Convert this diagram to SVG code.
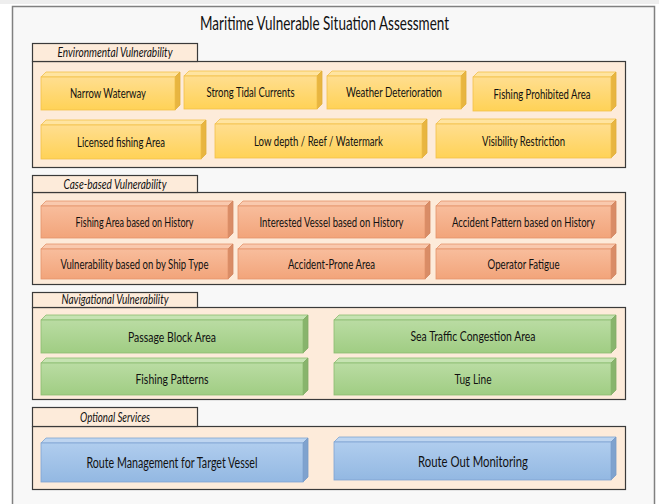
<svg xmlns="http://www.w3.org/2000/svg" width="659" height="504" viewBox="0 0 659 504">
  <defs>
    <linearGradient id="gY" x1="0" y1="0" x2="0" y2="1">
      <stop offset="0" stop-color="#FFDE90"/>
      <stop offset="1" stop-color="#FFD256"/>
    </linearGradient>
    <linearGradient id="gO" x1="0" y1="0" x2="0" y2="1">
      <stop offset="0" stop-color="#F8BD9C"/>
      <stop offset="1" stop-color="#F2A47A"/>
    </linearGradient>
    <linearGradient id="gG" x1="0" y1="0" x2="0" y2="1">
      <stop offset="0" stop-color="#BADCA3"/>
      <stop offset="1" stop-color="#A0CD83"/>
    </linearGradient>
    <linearGradient id="gB" x1="0" y1="0" x2="0" y2="1">
      <stop offset="0" stop-color="#B0CDEE"/>
      <stop offset="1" stop-color="#93B8E2"/>
    </linearGradient>
    <style>
      .frame { fill: #F8F8F8; stroke: #808080; stroke-width: 1.5; }
      .sec { fill: #FDEBDA; stroke: #3A3A3A; stroke-width: 1.2; }
      .title { font-family: Lato, "Open Sans", sans-serif; font-size: 19px; fill: #111; text-anchor: middle; }
      .tab { font-family: Lato, "Open Sans", sans-serif; font-style: italic; font-size: 12.5px; fill: #111; text-anchor: middle; }
      .lbl { font-family: Lato, "Open Sans", sans-serif; font-size: 13px; fill: #111; text-anchor: middle; }
      .lbl2 { font-family: Lato, "Open Sans", sans-serif; font-size: 14px; fill: #111; text-anchor: middle; }
      .lbl3 { font-family: Lato, "Open Sans", sans-serif; font-size: 14.5px; fill: #111; text-anchor: middle; }
      .y .f { fill: url(#gY); stroke: #F2C04A; stroke-width: 0.8; }
      .y .t { fill: #FFE4A0; stroke: #F2C04A; stroke-width: 0.8; }
      .y .s { fill: #E8B540; stroke: #E0AE3A; stroke-width: 0.8; }
      .o .f { fill: url(#gO); stroke: #E4946C; stroke-width: 0.8; }
      .o .t { fill: #F9C9AE; stroke: #E4946C; stroke-width: 0.8; }
      .o .s { fill: #D98C66; stroke: #D08560; stroke-width: 0.8; }
      .g .f { fill: url(#gG); stroke: #8CBC70; stroke-width: 0.8; }
      .g .t { fill: #C6E3B2; stroke: #8CBC70; stroke-width: 0.8; }
      .g .s { fill: #88B46C; stroke: #80AC64; stroke-width: 0.8; }
      .b .f { fill: url(#gB); stroke: #7FA4D2; stroke-width: 0.8; }
      .b .t { fill: #BED5F0; stroke: #7FA4D2; stroke-width: 0.8; }
      .b .s { fill: #7FA2CE; stroke: #7699C6; stroke-width: 0.8; }
    </style>
  </defs>

  <!-- page background and outer frame -->
  <rect x="0" y="0" width="659" height="504" fill="#FFFFFF"/>
  <rect x="0" y="0" width="659" height="4" fill="#EEEEEE"/>
  <rect class="frame" x="12.5" y="6.5" width="642" height="510"/>
  <text class="title" x="324.5" y="30" textLength="249" lengthAdjust="spacingAndGlyphs">Maritime Vulnerable Situation Assessment</text>

  <!-- section panels with tabs -->
  <g id="sec-env">
    <rect class="sec" x="32.5" y="61.5" width="593" height="106"/>
    <rect class="sec" x="32.5" y="43.5" width="165" height="18"/>
    <text class="tab" x="115" y="57" textLength="115" lengthAdjust="spacingAndGlyphs">Environmental Vulnerability</text>
  </g>
  <g id="sec-case">
    <rect class="sec" x="32.5" y="192.5" width="593" height="92"/>
    <rect class="sec" x="32.5" y="175.5" width="165" height="17"/>
    <text class="tab" x="115" y="188.5" textLength="103" lengthAdjust="spacingAndGlyphs">Case-based Vulnerability</text>
  </g>
  <g id="sec-nav">
    <rect class="sec" x="32.5" y="307.5" width="593" height="92"/>
    <rect class="sec" x="32.5" y="292.5" width="165" height="15"/>
    <text class="tab" x="115" y="304" textLength="107" lengthAdjust="spacingAndGlyphs">Navigational Vulnerability</text>
  </g>
  <g id="sec-opt">
    <rect class="sec" x="32.5" y="426.5" width="593" height="63"/>
    <rect class="sec" x="32.5" y="407.5" width="165" height="19"/>
    <text class="tab" x="115" y="421.5" textLength="70" lengthAdjust="spacingAndGlyphs">Optional Services</text>
  </g>

  <!-- environmental vulnerability blocks -->
  <g id="narrow-waterway" class="y">
    <polygon class="t" points="41,77 46,72 180,72 175,77"/>
    <polygon class="s" points="175,77 180,72 180,105 175,110"/>
    <rect class="f" x="41" y="77" width="134" height="33"/>
    <text class="lbl" x="108" y="98" textLength="76" lengthAdjust="spacingAndGlyphs">Narrow Waterway</text>
  </g>
  <g id="strong-tidal" class="y">
    <polygon class="t" points="184,76 189,71 322,71 317,76"/>
    <polygon class="s" points="317,76 322,71 322,104 317,109"/>
    <rect class="f" x="184" y="76" width="133" height="33"/>
    <text class="lbl" x="250.5" y="97" textLength="88" lengthAdjust="spacingAndGlyphs">Strong Tidal Currents</text>
  </g>
  <g id="weather" class="y">
    <polygon class="t" points="327,76 332,71 466,71 461,76"/>
    <polygon class="s" points="461,76 466,71 466,104 461,109"/>
    <rect class="f" x="327" y="76" width="134" height="33"/>
    <text class="lbl" x="394" y="97" textLength="96" lengthAdjust="spacingAndGlyphs">Weather Deterioration</text>
  </g>
  <g id="fishing-prohibited" class="y">
    <polygon class="t" points="473,77 478,72 616,72 611,77"/>
    <polygon class="s" points="611,77 616,72 616,106 611,111"/>
    <rect class="f" x="473" y="77" width="138" height="34"/>
    <text class="lbl" x="542" y="98.5" textLength="97" lengthAdjust="spacingAndGlyphs">Fishing Prohibited Area</text>
  </g>
  <g id="licensed-fishing" class="y">
    <polygon class="t" points="41,125 46,120 206,120 201,125"/>
    <polygon class="s" points="201,125 206,120 206,154 201,159"/>
    <rect class="f" x="41" y="125" width="160" height="34"/>
    <text class="lbl" x="121" y="146.5" textLength="88" lengthAdjust="spacingAndGlyphs">Licensed fishing Area</text>
  </g>
  <g id="low-depth" class="y">
    <polygon class="t" points="215,124 220,119 427,119 422,124"/>
    <polygon class="s" points="422,124 427,119 427,153 422,158"/>
    <rect class="f" x="215" y="124" width="207" height="34"/>
    <text class="lbl" x="318.5" y="145.5" textLength="129" lengthAdjust="spacingAndGlyphs">Low depth / Reef / Watermark</text>
  </g>
  <g id="visibility" class="y">
    <polygon class="t" points="436,124 441,119 616,119 611,124"/>
    <polygon class="s" points="611,124 616,119 616,153 611,158"/>
    <rect class="f" x="436" y="124" width="175" height="34"/>
    <text class="lbl" x="523.5" y="145.5" textLength="83" lengthAdjust="spacingAndGlyphs">Visibility Restriction</text>
  </g>

  <!-- case-based vulnerability blocks -->
  <g id="fishing-area-history" class="o">
    <polygon class="t" points="41,206 46,201 233,201 228,206"/>
    <polygon class="s" points="228,206 233,201 233,233 228,238"/>
    <rect class="f" x="41" y="206" width="187" height="32"/>
    <text class="lbl" x="134.5" y="226.5" textLength="118" lengthAdjust="spacingAndGlyphs">Fishing Area based on History</text>
  </g>
  <g id="interested-vessel" class="o">
    <polygon class="t" points="238,206 243,201 430,201 425,206"/>
    <polygon class="s" points="425,206 430,201 430,233 425,238"/>
    <rect class="f" x="238" y="206" width="187" height="32"/>
    <text class="lbl" x="331.5" y="226.5" textLength="144" lengthAdjust="spacingAndGlyphs">Interested Vessel based on History</text>
  </g>
  <g id="accident-pattern" class="o">
    <polygon class="t" points="436,206 441,201 616,201 611,206"/>
    <polygon class="s" points="611,206 616,201 616,233 611,238"/>
    <rect class="f" x="436" y="206" width="175" height="32"/>
    <text class="lbl" x="523.5" y="226.5" textLength="143" lengthAdjust="spacingAndGlyphs">Accident Pattern based on History</text>
  </g>
  <g id="ship-type" class="o">
    <polygon class="t" points="41,249 46,244 233,244 228,249"/>
    <polygon class="s" points="228,249 233,244 233,274 228,279"/>
    <rect class="f" x="41" y="249" width="187" height="30"/>
    <text class="lbl" x="134.5" y="268.5" textLength="148" lengthAdjust="spacingAndGlyphs">Vulnerability based on by Ship Type</text>
  </g>
  <g id="accident-prone" class="o">
    <polygon class="t" points="238,249 243,244 430,244 425,249"/>
    <polygon class="s" points="425,249 430,244 430,274 425,279"/>
    <rect class="f" x="238" y="249" width="187" height="30"/>
    <text class="lbl" x="331.5" y="268.5" textLength="87" lengthAdjust="spacingAndGlyphs">Accident-Prone Area</text>
  </g>
  <g id="operator-fatigue" class="o">
    <polygon class="t" points="436,249 441,244 616,244 611,249"/>
    <polygon class="s" points="611,249 616,244 616,274 611,279"/>
    <rect class="f" x="436" y="249" width="175" height="30"/>
    <text class="lbl" x="523.5" y="268.5" textLength="72" lengthAdjust="spacingAndGlyphs">Operator Fatigue</text>
  </g>

  <!-- navigational vulnerability blocks -->
  <g id="passage-block" class="g">
    <polygon class="t" points="41,320 46,315 308,315 303,320"/>
    <polygon class="s" points="303,320 308,315 308,348 303,353"/>
    <rect class="f" x="41" y="320" width="262" height="33"/>
    <text class="lbl2" x="172" y="342" textLength="88" lengthAdjust="spacingAndGlyphs">Passage Block Area</text>
  </g>
  <g id="fishing-patterns" class="g">
    <polygon class="t" points="41,363 46,358 308,358 303,363"/>
    <polygon class="s" points="303,363 308,358 308,390 303,395"/>
    <rect class="f" x="41" y="363" width="262" height="32"/>
    <text class="lbl2" x="172" y="384" textLength="73" lengthAdjust="spacingAndGlyphs">Fishing Patterns</text>
  </g>
  <g id="sea-traffic" class="g">
    <polygon class="t" points="334,320 339,315 616,315 611,320"/>
    <polygon class="s" points="611,320 616,315 616,348 611,353"/>
    <rect class="f" x="334" y="320" width="277" height="33"/>
    <text class="lbl2" x="473" y="341" textLength="125" lengthAdjust="spacingAndGlyphs">Sea Traffic Congestion Area</text>
  </g>
  <g id="tug-line" class="g">
    <polygon class="t" points="334,363 339,358 616,358 611,363"/>
    <polygon class="s" points="611,363 616,358 616,390 611,395"/>
    <rect class="f" x="334" y="363" width="277" height="32"/>
    <text class="lbl2" x="473" y="384" textLength="37" lengthAdjust="spacingAndGlyphs">Tug Line</text>
  </g>

  <!-- optional service blocks -->
  <g id="route-management" class="b">
    <polygon class="t" points="41,443 46,438 308,438 303,443"/>
    <polygon class="s" points="303,443 308,438 308,477 303,482"/>
    <rect class="f" x="41" y="443" width="262" height="39"/>
    <text class="lbl3" x="172" y="468" textLength="171" lengthAdjust="spacingAndGlyphs">Route Management for Target Vessel</text>
  </g>
  <g id="route-out" class="b">
    <polygon class="t" points="334,442 339,437 616,437 611,442"/>
    <polygon class="s" points="611,442 616,437 616,475 611,480"/>
    <rect class="f" x="334" y="442" width="277" height="38"/>
    <text class="lbl3" x="473" y="467" textLength="110" lengthAdjust="spacingAndGlyphs">Route Out Monitoring</text>
  </g>
</svg>
